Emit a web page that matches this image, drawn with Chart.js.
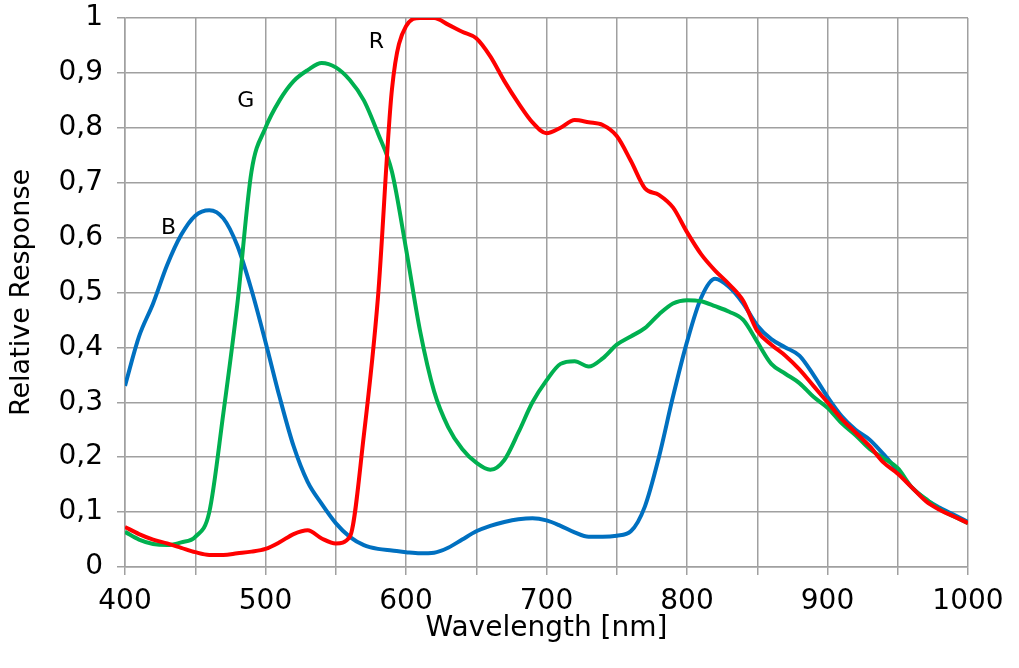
<!DOCTYPE html>
<html>
<head>
<meta charset="utf-8">
<script src="https://cdn.jsdelivr.net/npm/chart.js@4.4.0/dist/chart.umd.min.js"></script>
<style>
  html, body { margin: 0; padding: 0; background: #fff; }
  #wrap { width: 1019px; height: 668px; }
</style>
</head>
<body>
<div id="wrap"><canvas id="spectrum"></canvas></div>
<script>
// wavelengths in nm, one value per 10 nm
const wavelengths = [400, 410, 420, 430, 440, 450, 460, 470, 480, 490,
    500, 510, 520, 530, 540, 550, 560, 570, 580, 590,
    600, 610, 620, 630, 640, 650, 660, 670, 680, 690,
    700, 710, 720, 730, 740, 750, 760, 770, 780, 790,
    800, 810, 820, 830, 840, 850, 860, 870, 880, 890,
    900, 910, 920, 930, 940, 950, 960, 970, 980, 990, 1000];

const redResponse = [0.073, 0.06, 0.05, 0.043, 0.035, 0.027, 0.022, 0.022, 0.025, 0.028,
    0.033, 0.045, 0.06, 0.067, 0.052, 0.043, 0.055, 0.24, 0.49, 0.87,
    0.985, 1.0, 1.0, 0.988, 0.975, 0.963, 0.93, 0.885, 0.845, 0.81,
    0.79, 0.80, 0.814, 0.81, 0.805, 0.785, 0.74, 0.69, 0.678, 0.655,
    0.61, 0.57, 0.54, 0.515, 0.485, 0.43, 0.405, 0.385, 0.36, 0.33,
    0.30, 0.27, 0.245, 0.22, 0.19, 0.17, 0.145, 0.12, 0.104, 0.092, 0.08];

const greenResponse = [0.064, 0.05, 0.042, 0.04, 0.045, 0.055, 0.10, 0.28, 0.48, 0.72,
    0.80, 0.85, 0.885, 0.905, 0.918, 0.91, 0.887, 0.85, 0.79, 0.72,
    0.58, 0.43, 0.32, 0.255, 0.215, 0.19, 0.177, 0.195, 0.245, 0.30,
    0.34, 0.37, 0.375, 0.365, 0.38, 0.405, 0.42, 0.435, 0.46, 0.48,
    0.486, 0.484, 0.475, 0.465, 0.45, 0.41, 0.37, 0.352, 0.335, 0.31,
    0.29, 0.262, 0.24, 0.215, 0.198, 0.18, 0.145, 0.124, 0.105, 0.092, 0.08];

const blueResponse = [0.33, 0.42, 0.48, 0.55, 0.605, 0.64, 0.65, 0.635, 0.585, 0.505,
    0.41, 0.31, 0.22, 0.155, 0.115, 0.08, 0.055, 0.04, 0.033, 0.03,
    0.027, 0.025, 0.026, 0.035, 0.05, 0.065, 0.075, 0.082, 0.087, 0.089,
    0.085, 0.075, 0.063, 0.055, 0.055, 0.057, 0.065, 0.11, 0.20, 0.31,
    0.41, 0.49, 0.525, 0.51, 0.48, 0.44, 0.415, 0.40, 0.385, 0.35,
    0.31, 0.275, 0.25, 0.232, 0.205, 0.175, 0.145, 0.123, 0.108, 0.095, 0.082];

// curve names and where they are written on the chart
const curveNames = ['R', 'G', 'B'];
const curveColors = ['#ff0000', '#00b050', '#0070c0'];
const nameAt = [[579, 0.956], [486, 0.849], [431, 0.617]];

const textFont = "'DejaVu Sans', 'Liberation Sans', sans-serif";

function toPoints(values) {
    return values.map((v, i) => ({ x: wavelengths[i], y: v }));
}

const spectrumData = {
    datasets: [redResponse, greenResponse, blueResponse].map((values, i) => ({
        label: curveNames[i],
        data: toPoints(values),
        borderColor: curveColors[i],
        borderWidth: 4,
        pointRadius: 0,
        fill: false,
        cubicInterpolationMode: 'monotone'
    }))
};

const curveLabels = {
    id: 'curveLabels',
    afterDatasetsDraw(chart) {
        const ctx = chart.ctx;
        const xs = chart.scales.x;
        const ys = chart.scales.y;
        ctx.save();
        ctx.font = '22px ' + textFont;
        ctx.fillStyle = '#000';
        ctx.textAlign = 'center';
        ctx.textBaseline = 'middle';
        nameAt.forEach((p, i) => {
            ctx.fillText(curveNames[i], xs.getPixelForValue(p[0]), ys.getPixelForValue(p[1]));
        });
        ctx.restore();
    }
};

const spectrumOptions = {
    responsive: true,
    maintainAspectRatio: false,
    animation: { duration: 0 },
    layout: { padding: { left: 0, right: 51, top: 18, bottom: 0 } },
    plugins: {
        legend: { display: false },
        tooltip: { enabled: false }
    },
    scales: {
        x: {
            type: 'linear',
            min: 400,
            max: 1000,
            afterFit: scale => {
                scale.height = 101;
                scale.paddingLeft = 0;
                scale.paddingRight = 0;
            },
            ticks: {
                stepSize: 50,
                autoSkip: false,
                maxRotation: 0,
                color: '#000',
                font: { family: textFont, size: 28 },
                padding: 10,
                callback: v => (v % 100 === 0 ? String(v) : '')
            },
            grid: { color: '#a0a0a0', lineWidth: 1.5, tickLength: 8 },
            border: { color: '#a0a0a0', width: 1.5 },
            title: {
                display: true,
                text: 'Wavelength [nm]',
                color: '#000',
                font: { family: textFont, size: 28 },
                padding: { top: 0, bottom: 22 }
            }
        },
        y: {
            min: 0,
            max: 1,
            afterFit: scale => {
                scale.width = 125;
                scale.paddingTop = 0;
                scale.paddingBottom = 0;
            },
            ticks: {
                stepSize: 0.1,
                color: '#000',
                font: { family: textFont, size: 28 },
                padding: 14,
                callback: v => {
                    const r = Math.round(v * 10) / 10;
                    return Number.isInteger(r) ? String(r) : r.toFixed(1).replace('.', ',');
                }
            },
            grid: { color: '#a0a0a0', lineWidth: 1.5, tickLength: 8 },
            border: { color: '#a0a0a0', width: 1.5 },
            title: {
                display: true,
                text: 'Relative Response',
                color: '#000',
                font: { family: textFont, size: 27 },
                padding: { top: 6, bottom: 0 }
            }
        }
    }
};

new Chart(document.querySelector('#spectrum'), {
    type: 'line',
    data: spectrumData,
    options: spectrumOptions,
    plugins: [curveLabels]
});
</script>
</body>
</html>
